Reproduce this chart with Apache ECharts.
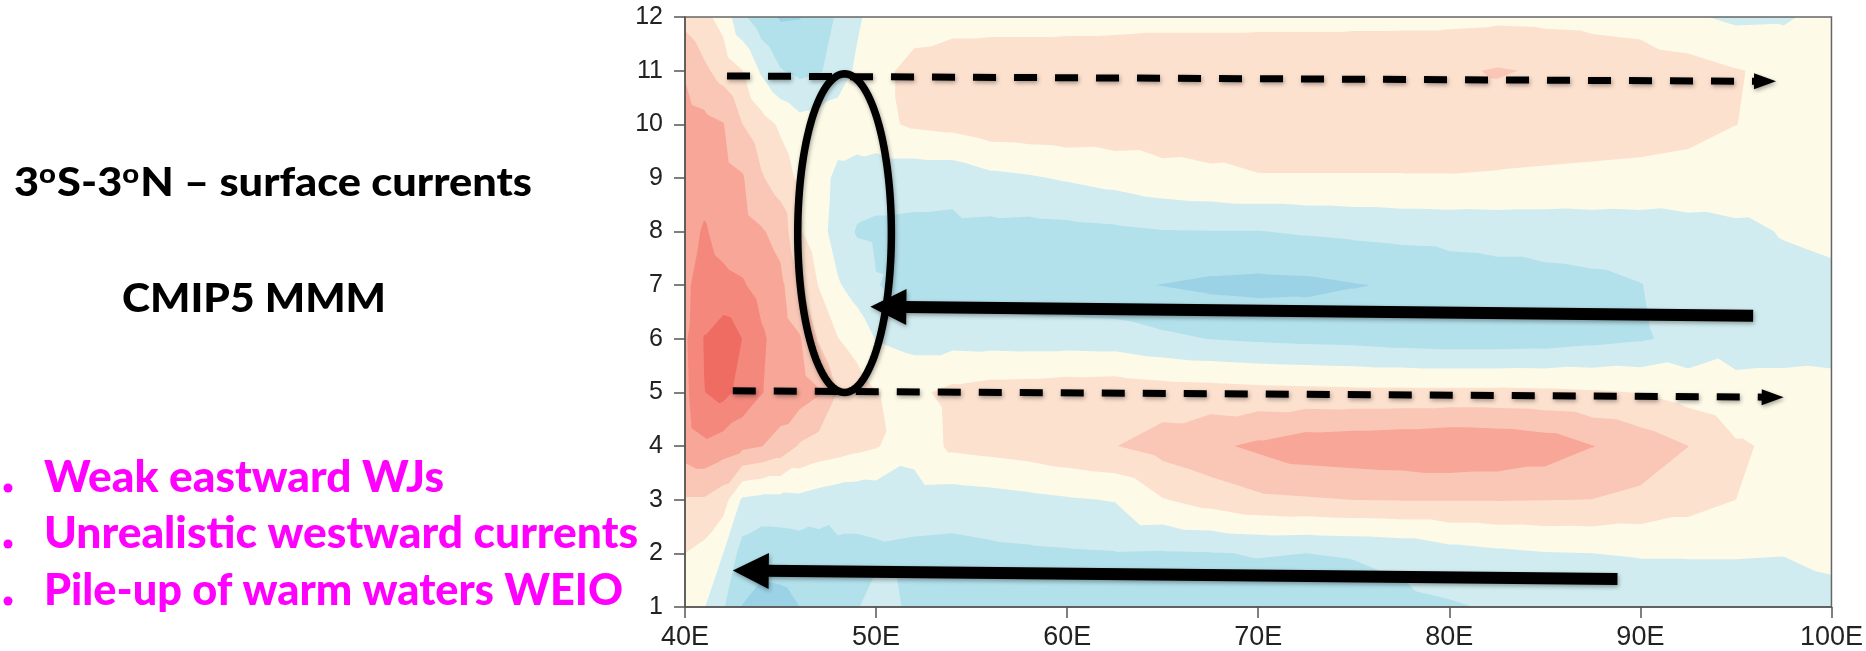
<!DOCTYPE html>
<html>
<head>
<meta charset="utf-8">
<title>3oS-3oN surface currents - CMIP5 MMM</title>
<script src="https://cdn.jsdelivr.net/npm/echarts@6/dist/echarts.min.js"></script>
<style>
  html, body { margin: 0; padding: 0; background: #ffffff; }
  #chart { width: 1866px; height: 651px; }
</style>
</head>
<body>
<div id="chart"></div>
<script>
// longitude of each column of the field (deg E)
const lons = [40, 41, 42, 43, 44, 45, 46, 47, 48, 49, 50, 52, 54, 56, 58, 60, 62.5, 65, 67.5, 70, 72.5, 75, 77.5, 80, 82.5, 85, 87.5, 90, 92.5, 95, 97.5, 100];
// month of each row
const months = [1, 2, 3, 4, 5, 6, 7, 8, 9, 10, 11, 12];
// shaded field, one row per month (contour step 2)
const m01 = [0.0, -0.9, -2.8, -5.05, -5.6, -5.5, -5.0, -4.6, -3.8, -3.1, -2.4, -3.3, -3.4, -3.5, -3.6, -3.7, -3.8, -3.9, -4.0, -4.0, -3.9, -3.7, -3.5, -3.2, -2.8, -2.4, -2.1, -1.9, -1.8, -1.8, -1.8, -1.6];
const m02 = [1.0, 0.4, -1.0, -3.8, -4.4, -4.3, -4.1, -3.9, -3.4, -3.4, -3.3, -3.5, -3.6, -3.4, -3.3, -3.2, -3.1, -3.2, -3.1, -2.9, -3.0, -2.9, -2.6, -1.8, -1.4, -1.1, -1.0, -0.9, -0.9, -0.9, -0.95, -0.6];
const m03 = [2.8, 2.8, 1.9, -1.3, -1.6, -1.6, -1.5, -1.9, -2.2, -2.3, -2.2, -1.9, -2.0, -1.8, -1.5, -1.2, -0.9, 0.9, 1.8, 2.6, 2.8, 3.02, 3.1, 3.1, 3.1, 3.05, 2.98, 2.6, 1.9, 1.0, 0.4, 0.2];
const m04 = [6.0, 6.6, 6.0, 5.5, 5.05, 4.3, 2.8, 2.2, 1.9, 1.5, 1.15, -0.3, 1.4, 1.7, 2.0, 2.5, 2.95, 3.8, 4.6, 5.4, 6.2, 6.4, 6.6, 6.9, 6.7, 6.2, 5.05, 4.1, 3.02, 1.25, 0.6, 0.4];
const m05 = [6.5, 8.95, 9.6, 8.3, 7.1, 6.2, 6.0, 5.2, 2.9, 2.0, 1.05, 0.6, 1.5, 1.9, 2.0, 2.2, 2.3, 2.0, 1.9, 1.7, 1.6, 1.5, 1.5, 1.5, 1.5, 1.4, 1.2, 0.95, 0.2, -0.5, -0.5, -0.6];
const m06 = [6.7, 9.1, 10.2, 8.98, 7.3, 6.2, 5.2, 2.8, 1.05, 0.2, -1.1, -1.7, -1.7, -1.8, -1.9, -1.9, -2.0, -2.6, -3.05, -3.3, -3.5, -3.6, -3.9, -4.1, -4.1, -4.0, -3.6, -3.2, -2.5, -1.7, -1.6, -1.5];
const m07 = [6.6, 7.9, 7.5, 7.2, 6.3, 5.5, 3.05, 0.9, -0.8, -1.8, -2.9, -3.9, -4.1, -4.3, -4.4, -4.5, -4.7, -5.05, -5.4, -5.55, -5.45, -5.1, -4.8, -4.2, -3.9, -3.6, -3.4, -3.05, -2.2, -1.8, -1.5, -1.3];
const m08 = [6.2, 7.2, 6.3, 5.8, 5.2, 4.3, 1.2, -0.2, -1.9, -3.15, -3.3, -3.4, -3.5, -3.6, -3.7, -3.6, -3.4, -3.1, -3.05, -3.05, -2.8, -2.6, -2.4, -2.3, -2.2, -2.2, -2.1, -2.0, -1.7, -1.4, -0.9, -0.7];
const m09 = [6.0, 6.3, 5.8, 5.2, 3.2, 2.0, 0.6, 0.0, -1.6, -2.0, -2.3, -2.3, -2.3, -1.5, -1.2, -0.8, -0.3, 0.3, 0.6, 0.9, 0.9, 0.9, 0.9, 0.9, 0.8, 0.7, 0.6, 0.5, 0.3, 0.2, 0.1, 0.0];
const m10 = [5.9, 5.6, 5.1, 3.02, 1.8, 0.7, -0.3, -0.1, 0.2, 0.3, 0.5, 1.3, 1.6, 2.2, 2.3, 2.4, 2.3, 2.2, 2.1, 2.0, 2.0, 2.0, 2.0, 2.1, 2.2, 2.0, 1.9, 1.8, 1.6, 1.02, 0.5, 0.3];
const m11 = [4.8, 3.4, 2.2, 1.05, -1.3, -2.9, -3.5, -3.2, -2.2, -0.6, 0.5, 1.5, 1.9, 2.0, 2.0, 2.1, 2.2, 2.2, 2.2, 2.3, 2.3, 2.4, 2.5, 2.7, 3.15, 2.8, 2.3, 2.1, 1.8, 1.1, 0.6, 0.3];
const m12 = [2.4, 1.5, 0.3, -2.6, -4.2, -5.2, -5.1, -3.8, -2.8, -1.4, 0.0, 0.3, 0.4, 0.4, 0.4, 0.4, 0.4, 0.5, 0.5, 0.5, 0.5, 0.5, 0.5, 0.5, 0.6, 0.5, 0.4, 0.2, -0.7, -1.4, -1.3, -0.2];
const rows = [m01, m02, m03, m04, m05, m06, m07, m08, m09, m10, m11, m12];

// lower edge of each shaded band and its colour
const levels = [-Infinity, -5, -3, -1, 1, 3, 5, 7, 9];
const bandColors = ['#9bd2e5', '#b2e0eb', '#d0ecf0', '#fefae8', '#fde1cf', '#fac7b7', '#f7a698', '#f4887d', '#ef6c62'];

// hand drawn annotations: [lon from, month from, lon to, month to]
const solidArrows = [[95.9, 6.43, 49.7, 6.6], [88.8, 1.52, 42.5, 1.68]];
const dashedArrows = [[42.2, 10.9, 97.1, 10.8], [42.5, 5.03, 97.5, 4.91]];
// ellipse: centre lon, centre month, half width (deg), half height (months)
const loop = [[48.35, 7.97, 2.45, 2.97]];

const chart = echarts.init(document.getElementById('chart'));

// part of a triangle where the field is >= t, as a path string
function clipTri(tri, t) {
  const out = [];
  for (let k = 0; k < 3; k++) {
    const p = tri[k], q = tri[(k + 1) % 3];
    const pin = p[2] >= t, qin = q[2] >= t;
    if (pin) out.push(p);
    if (pin !== qin) {
      const f = (t - p[2]) / (q[2] - p[2]);
      out.push([p[0] + f * (q[0] - p[0]), p[1] + f * (q[1] - p[1])]);
    }
  }
  if (out.length < 3) return '';
  return 'M' + out.map(p => p[0].toFixed(2) + ' ' + p[1].toFixed(2)).join('L') + 'Z';
}

function renderBand(params, api) {
  const t = levels[params.dataIndex];
  const pts = rows.map((row, j) => row.map((v, i) => {
    const p = api.coord([lons[i], months[j]]);
    return [p[0], p[1], v];
  }));
  let d = '';
  for (let j = 0; j < months.length - 1; j++) {
    for (let i = 0; i < lons.length - 1; i++) {
      const a = pts[j][i], b = pts[j][i + 1], c = pts[j + 1][i + 1], e = pts[j + 1][i];
      d += clipTri([a, b, c], t) + clipTri([a, c, e], t);
    }
  }
  if (!d) return null;
  return { type: 'path', shape: { pathData: d }, style: { fill: bandColors[params.dataIndex] }, silent: true };
}

const shadow = { shadowBlur: 4, shadowOffsetX: 1, shadowOffsetY: 2, shadowColor: 'rgba(0,0,0,0.35)' };

function arrowShape(api, headLen, headHalf, lineStyle) {
  const s = api.coord([api.value(0), api.value(1)]);
  const e = api.coord([api.value(2), api.value(3)]);
  const dx = e[0] - s[0], dy = e[1] - s[1];
  const len = Math.hypot(dx, dy);
  const ux = dx / len, uy = dy / len;
  const bx = e[0] - ux * headLen, by = e[1] - uy * headLen;
  return {
    type: 'group',
    children: [
      { type: 'line', shape: { x1: s[0], y1: s[1], x2: bx + ux * 2, y2: by + uy * 2 },
        style: Object.assign({ stroke: '#000', lineCap: 'butt' }, lineStyle, shadow) },
      { type: 'polygon', shape: { points: [[e[0], e[1]], [bx - uy * headHalf, by + ux * headHalf], [bx + uy * headHalf, by - ux * headHalf]] },
        style: Object.assign({ fill: '#000' }, shadow) }
    ]
  };
}

function renderSolid(params, api) {
  return arrowShape(api, 36, 18, { lineWidth: 12 });
}

function renderDashed(params, api) {
  return arrowShape(api, 22, 8, { lineWidth: 7, lineDash: [23, 18] });
}

function renderLoop(params, api) {
  const c = api.coord([api.value(0), api.value(1)]);
  const r = api.size([api.value(2), api.value(3)]);
  const pts = [];
  for (let k = 0; k < 144; k++) {
    const a = k / 144 * Math.PI * 2;
    pts.push([c[0] + r[0] * Math.cos(a), c[1] + r[1] * Math.sin(a)]);
  }
  return { type: 'polygon', shape: { points: pts }, style: Object.assign({ fill: 'none', stroke: '#000', lineWidth: 7.5 }, shadow) };
}

// fit the slide texts to the widths they have on the slide
const measure = document.createElement('canvas').getContext('2d');
function textWidth(str, font) {
  measure.font = font;
  return measure.measureText(str).width;
}
const titleFont = '900 40px Lato';
const supFont = '900 27px Lato';
// title pieces, true = raised small letter
const titleParts = [['3', false], ['o', true], ['S-3', false], ['o', true], ['N \u2013 surface currents', false]];
let titleX = 0;
const titleChildren = titleParts.map(([s, sup]) => {
  const font = sup ? supFont : titleFont;
  const el = { type: 'text', x: titleX, y: sup ? -9 : 0, style: { text: s, font: font, fill: '#000', textVerticalAlign: 'middle' } };
  titleX += textWidth(s, font) + (sup ? 1 : 0);
  return el;
});
const subScale = 264 / textWidth('CMIP5 MMM', titleFont);
const pinkFont = '900 43px Lato';
const bullets = ['Weak eastward WJs', 'Unrealistic westward currents', 'Pile-up of warm waters WEIO'];
const bulletWidths = [400, 594, 579];
const bulletY = [478, 534, 591];

const graphics = [
  { type: 'group', x: 14, y: 183, scaleX: 518 / titleX, z: 20, children: titleChildren },
  {
    type: 'text', x: 122, y: 299, scaleX: subScale, z: 20,
    style: { text: 'CMIP5 MMM', font: titleFont, fill: '#000', textVerticalAlign: 'middle' }
  }
];
bullets.forEach((b, i) => {
  graphics.push({
    type: 'text', x: 44, y: bulletY[i], scaleX: bulletWidths[i] / textWidth(b, pinkFont), z: 20,
    style: { text: b, font: pinkFont, fill: '#ff00ff', textVerticalAlign: 'middle' }
  });
  graphics.push({
    type: 'circle', shape: { cx: 8, cy: bulletY[i] + 10, r: 4.5 }, z: 20,
    style: { fill: '#ff00ff' }
  });
});

const axisLineStyle = { color: '#555', width: 1.5 };

chart.setOption({
  animation: false,
  backgroundColor: '#ffffff',
  grid: { left: 685, right: 7, top: 17, bottom: 44, show: true, borderColor: '#666', borderWidth: 1.5, z: 10 },
  xAxis: {
    type: 'value', min: 40, max: 100, interval: 10, z: 10,
    axisLine: { show: true, onZero: false, lineStyle: axisLineStyle },
    axisTick: { show: true, length: 11, lineStyle: axisLineStyle },
    axisLabel: { formatter: v => v + 'E', color: '#222', fontSize: 27, fontFamily: 'Liberation Sans', margin: 17, alignMaxLabel: 'center' },
    splitLine: { show: false }
  },
  yAxis: {
    type: 'value', min: 1, max: 12, interval: 1, z: 10,
    axisLine: { show: true, onZero: false, lineStyle: axisLineStyle },
    axisTick: { show: true, length: 11, lineStyle: axisLineStyle },
    axisLabel: { color: '#222', fontSize: 25, fontFamily: 'Liberation Sans', margin: 22 },
    splitLine: { show: false }
  },
  graphic: graphics,
  series: [
    {
      type: 'custom', name: 'field', renderItem: renderBand, z: 1, silent: true,
      data: levels.map(() => [lons[0], months[0]])
    },
    {
      type: 'custom', name: 'loop', renderItem: renderLoop, z: 5, silent: true,
      encode: { x: 0, y: 1 }, data: loop
    },
    {
      type: 'custom', name: 'dashed', renderItem: renderDashed, z: 6, silent: true,
      encode: { x: [0, 2], y: [1, 3] }, data: dashedArrows
    },
    {
      type: 'custom', name: 'solid', renderItem: renderSolid, z: 6, silent: true,
      encode: { x: [0, 2], y: [1, 3] }, data: solidArrows
    }
  ]
});
</script>
</body>
</html>
